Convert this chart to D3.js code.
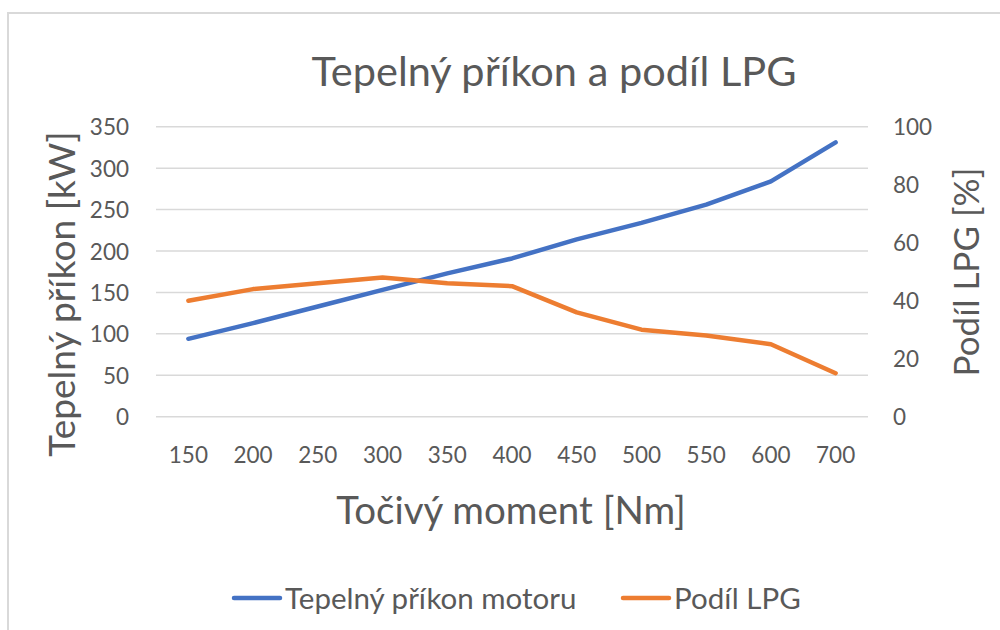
<!DOCTYPE html>
<html>
<head>
<meta charset="utf-8">
<script src="https://cdn.jsdelivr.net/npm/d3@7"></script>
<style>
  html, body { margin: 0; padding: 0; background: #fff; }
  svg text { font-family: Lato, "Open Sans", sans-serif; fill: #595959; }
</style>
</head>
<body>
<svg id="chart" width="1000" height="630"></svg>
<script>
// Torque categories (the axis has no 650 step)
const torque = ["150", "200", "250", "300", "350", "400", "450", "500", "550", "600", "700"];
// Thermal input of the engine [kW]
const thermalInput = [94, 113, 133, 153, 173, 191, 214, 234, 256, 284, 331];
// LPG share [%]
const lpgShare = [40, 44, 46, 48, 46, 45, 36, 30, 28, 25, 15];
const leftTicks = [0, 50, 100, 150, 200, 250, 300, 350];
const rightTicks = [0, 20, 40, 60, 80, 100];

const svg = d3.select("#chart");
const W = 1000, H = 630;
const plot = { left: 156, right: 868, top: 126.7, bottom: 416.7 };

// Chart frame: only top and left edges fall inside the view
svg.append("path")
  .attr("d", `M8,${H + 5} L8,13 L${W + 5},13`)
  .attr("fill", "none").attr("stroke", "#d9d9d9").attr("stroke-width", 2);

const x = d3.scaleBand().domain(torque).range([plot.left, plot.right]);
const yL = d3.scaleLinear().domain([0, 350]).range([plot.bottom, plot.top]);
const yR = d3.scaleLinear().domain([0, 100]).range([plot.bottom, plot.top]);

// Gridlines
svg.append("g").selectAll("line").data(leftTicks).join("line")
  .attr("x1", plot.left).attr("x2", plot.right)
  .attr("y1", d => yL(d)).attr("y2", d => yL(d))
  .attr("stroke", "#d9d9d9").attr("stroke-width", 1.5);

// Left axis
const axL = svg.append("g").attr("transform", `translate(${plot.left},0)`)
  .call(d3.axisLeft(yL).tickValues(leftTicks).tickSize(0).tickPadding(27));
axL.select(".domain").remove();
axL.selectAll("text").style("font-size", "22.5px").attr("dy", "0.36em");

// Right axis
const axR = svg.append("g").attr("transform", `translate(${plot.right},0)`)
  .call(d3.axisRight(yR).tickValues(rightTicks).tickSize(0).tickPadding(25));
axR.select(".domain").remove();
axR.selectAll("text").style("font-size", "22.5px").attr("dy", "0.36em");

// Bottom axis
const axB = svg.append("g").attr("transform", `translate(0,${plot.bottom})`)
  .call(d3.axisBottom(x).tickSize(0).tickPadding(30));
axB.select(".domain").remove();
axB.selectAll("text").style("font-size", "22.5px");

// Series lines
const lineL = d3.line().x((d, i) => x(torque[i]) + x.bandwidth() / 2).y(d => yL(d));
const lineR = d3.line().x((d, i) => x(torque[i]) + x.bandwidth() / 2).y(d => yR(d));

svg.append("path").datum(thermalInput).attr("d", lineL)
  .attr("fill", "none").attr("stroke", "#4472C4").attr("stroke-width", 4.5)
  .attr("stroke-linecap", "round").attr("stroke-linejoin", "round");
svg.append("path").datum(lpgShare).attr("d", lineR)
  .attr("fill", "none").attr("stroke", "#ED7D31").attr("stroke-width", 4.5)
  .attr("stroke-linecap", "round").attr("stroke-linejoin", "round");

// Title
svg.append("text").attr("x", 554).attr("y", 86).attr("text-anchor", "middle")
  .style("font-size", "41.5px").text("Tepelný příkon a podíl LPG");

// Axis titles
svg.append("text").attr("transform", "translate(75,294) rotate(-90)")
  .attr("text-anchor", "middle").style("font-size", "37px")
  .text("Tepelný příkon [kW]");
svg.append("text").attr("transform", "translate(979,272) rotate(-90)")
  .attr("text-anchor", "middle").style("font-size", "35px")
  .text("Podíl LPG [%]");
svg.append("text").attr("x", 511).attr("y", 524).attr("text-anchor", "middle")
  .style("font-size", "38.5px").text("Točivý moment [Nm]");

// Legend
const legend = [
  { name: "Tepelný příkon motoru", color: "#4472C4", x: 234 },
  { name: "Podíl LPG", color: "#ED7D31", x: 623 }
];
const lg = svg.append("g").selectAll("g").data(legend).join("g")
  .attr("transform", d => `translate(${d.x},598)`);
lg.append("line").attr("x1", 0).attr("x2", 46).attr("y1", 0).attr("y2", 0)
  .attr("stroke", d => d.color).attr("stroke-width", 4.5).attr("stroke-linecap", "round");
lg.append("text").attr("x", 51).attr("y", 0).attr("dy", "0.36em")
  .style("font-size", "29.5px").text(d => d.name);
</script>
</body>
</html>
